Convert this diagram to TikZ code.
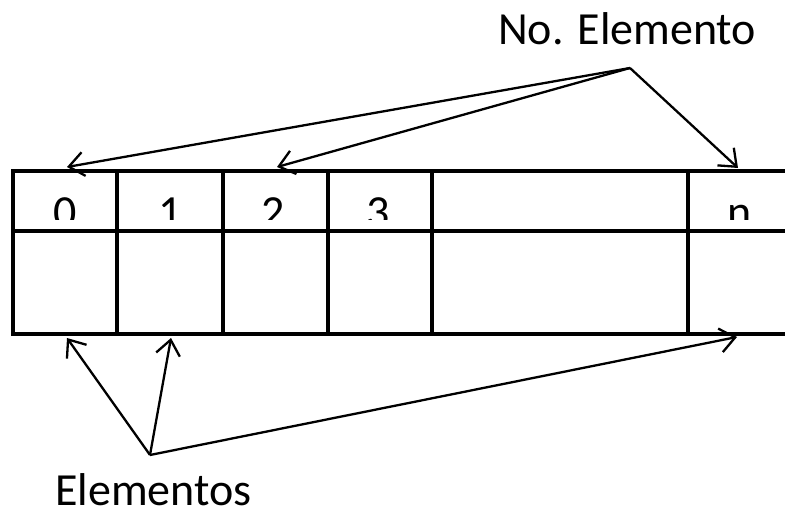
\documentclass[tikz,border=0pt]{standalone}
\usepackage{fontspec}
\setmainfont{Carlito}
\usetikzlibrary{arrows.meta}
\begin{document}
\begin{tikzpicture}[x=1pt,y=-1pt,
  grid/.style={line width=4.6pt, line cap=rect},
  pointer/.style={line width=2.3pt, -{Straight Barb[length=15pt,width=24pt,line width=2.3pt]}},
  label/.style={inner sep=0pt, font=\fontsize{46}{50}\selectfont},
  index/.style={inner sep=0pt, anchor=base, font=\fontsize{46}{50}\selectfont}]
\useasboundingbox (0,0) rectangle (785,514);
% table grid: header row with indices, body row with elements
\draw[grid] (785,171) -- (13,171) -- (13,334) -- (785,334);
\draw[grid] (13,231) -- (785,231);
\foreach \cx in {117,223,328,432,688}
  \draw[grid] (\cx,171) -- (\cx,334);
% indices, cut off below by the header band
\begin{scope}
  \clip (0,0) rectangle (785,219);
  \node[index] (i0) at (65,227) {0};
  \node[index] (i1) at (170,227) {1};
  \node[index] (i2) at (273,227) {2};
  \node[index] (i3) at (378,227) {3};
  \node[index] (in) at (740,227) {n};
\end{scope}
% captions
\node[label, anchor=base west] (num) at (498,45) {No. Elemento};
\node[label, anchor=base west] (elem) at (55,505) {Elementos};
% pointer origins and targets
\coordinate (numhub) at (630,68);
\coordinate (elemhub) at (150,455);
\coordinate (t0) at (67,167);
\coordinate (t2) at (277,167);
\coordinate (tn) at (738,168);
\coordinate (b0) at (67,338);
\coordinate (b1) at (171,338);
\coordinate (bn) at (737,337);
\draw[pointer] (numhub) -- (t0);
\draw[pointer] (numhub) -- (t2);
\draw[pointer] (numhub) -- (tn);
\draw[pointer] (elemhub) -- (b0);
\draw[pointer] (elemhub) -- (b1);
\draw[pointer] (elemhub) -- (bn);
\end{tikzpicture}
\end{document}
